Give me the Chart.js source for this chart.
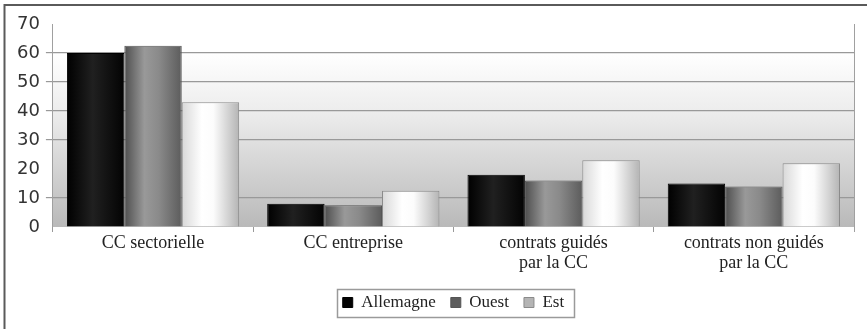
<!DOCTYPE html>
<html>
<head>
<meta charset="utf-8">
<script src="https://cdn.jsdelivr.net/npm/chart.js@4"></script>
<style>
  html, body { margin: 0; padding: 0; background: #fff; }
  #wrap { width: 867px; height: 329px; }
</style>
</head>
<body>
<div id="wrap"><canvas id="c" width="867" height="329"></canvas></div>
<script>
// Categories and series values (percent)
const categories = ['CC sectorielle', 'CC entreprise', ['contrats guidés', 'par la CC'], ['contrats non guidés', 'par la CC']];
const seriesNames = ['Allemagne', 'Ouest', 'Est'];
const allemagne = [60, 8, 18, 15];
const ouest = [62.5, 7.5, 16, 14];
const est = [43, 12.5, 23, 22];
const yMin = 0, yMax = 70, yStep = 10;
const hiddenGridValues = [0, 20, 70];

const CAT_PCT = 0.86;

// Horizontal "cylinder" shading for each bar, built from the x scale geometry
function barFill(solid, stops) {
  return (c) => {
    const chart = c.chart;
    const xs = chart.scales && chart.scales.x;
    if (!xs || c.dataIndex === undefined || !xs.width) return solid;
    const nSeries = chart.data.datasets.length;
    const catW = xs.width / chart.data.labels.length;
    const groupW = catW * CAT_PCT;
    const barW = groupW / nSeries;
    const left = xs.getPixelForTick(c.dataIndex) - groupW / 2 + c.datasetIndex * barW;
    const g = chart.ctx.createLinearGradient(left, 0, left + barW, 0);
    stops.forEach(s => g.addColorStop(s[0], s[1]));
    return g;
  };
}

const decorPlugin = {
  id: 'decor',
  beforeDraw(chart) {
    const {ctx, chartArea: a, scales: {y}} = chart;
    ctx.save();
    ctx.fillStyle = '#fff';
    ctx.fillRect(0, 0, chart.width, chart.height);
    // outer frame (left and top edges)
    ctx.strokeStyle = '#5a5a5a';
    ctx.lineWidth = 2;
    ctx.beginPath();
    ctx.moveTo(4.5, chart.height);
    ctx.lineTo(4.5, 5);
    ctx.lineTo(chart.width, 5);
    ctx.stroke();
    // plot background: white above 60, fading to grey toward the baseline
    const y60 = y.getPixelForValue(60);
    const y0 = y.getPixelForValue(0);
    const g = ctx.createLinearGradient(0, y60, 0, y0);
    g.addColorStop(0, '#ffffff');
    g.addColorStop(0.35, '#ececec');
    g.addColorStop(1, '#b9b9b9');
    ctx.fillStyle = g;
    ctx.fillRect(a.left, y60, a.right - a.left, y0 - y60);
    ctx.restore();
  },
  afterDraw(chart) {
    const {ctx, chartArea: a} = chart;
    ctx.save();
    // right edge of the plot
    ctx.strokeStyle = '#a0a0a0';
    ctx.lineWidth = 1;
    ctx.beginPath();
    ctx.moveTo(a.right + 0.5, a.top);
    ctx.lineTo(a.right + 0.5, a.bottom + 5);
    ctx.stroke();
    // frame round the legend
    const boxes = chart.legend && chart.legend.legendHitBoxes;
    if (boxes && boxes.length) {
      const l = Math.min(...boxes.map(b => b.left)) - 6;
      const r = Math.max(...boxes.map(b => b.left + b.width)) + 10;
      const t = Math.min(...boxes.map(b => b.top));
      const h = Math.max(...boxes.map(b => b.height));
      const cy = t + h / 2;
      ctx.strokeStyle = '#9a9a9a';
      ctx.lineWidth = 1.5;
      ctx.strokeRect(Math.round(l) + 0.5, Math.round(cy - 14) + 0.5, Math.round(r - l), 28);
    }
    ctx.restore();
  }
};

new Chart(document.getElementById('c'), {
  type: 'bar',
  data: {
    labels: categories,
    datasets: [
      {
        label: seriesNames[0], data: allemagne,
        backgroundColor: barFill('#000', [[0, '#000'], [0.45, '#202020'], [1, '#030303']]),
        borderColor: '#000', borderWidth: 1
      },
      {
        label: seriesNames[1], data: ouest,
        backgroundColor: barFill('#7a7a7a', [[0, '#4e4e4e'], [0.35, '#999'], [0.6, '#8a8a8a'], [1, '#5c5c5c']]),
        borderColor: '#555', borderWidth: 1
      },
      {
        label: seriesNames[2], data: est,
        backgroundColor: barFill('#f2f2f2', [[0, '#d8d8d8'], [0.35, '#fff'], [0.55, '#fcfcfc'], [1, '#b4b4b4']]),
        borderColor: '#8a8a8a', borderWidth: 1
      }
    ]
  },
  options: {
    responsive: false,
    animation: false,
    devicePixelRatio: 1,
    categoryPercentage: CAT_PCT,
    barPercentage: 1.0,
    layout: { padding: { left: 11, right: 13, top: 24, bottom: 8 } },
    plugins: {
      tooltip: { enabled: false },
      legend: {
        position: 'bottom',
        fullSize: false,
        labels: {
          boxWidth: 10, boxHeight: 10, padding: 15,
          color: '#222',
          font: { family: '"Liberation Serif", serif', size: 17 }
        }
      }
    },
    scales: {
      x: {
        afterFit(scale) { scale.height = 52; },
        border: { display: false },
        grid: {
          offset: true, drawOnChartArea: false, drawTicks: true,
          tickLength: 5, color: '#999', lineWidth: 1
        },
        ticks: {
          padding: 2, color: '#222', maxRotation: 0, autoSkip: false,
          font: { family: '"Liberation Serif", serif', size: 18, lineHeight: 1.08 }
        }
      },
      y: {
        min: yMin, max: yMax,
        border: { display: true, color: '#a0a0a0', width: 1 },
        grid: {
          color: (c) => hiddenGridValues.includes(c.tick && c.tick.value) ? 'rgba(0,0,0,0)' : '#999',
          lineWidth: 1.2, tickLength: 7
        },
        ticks: {
          stepSize: yStep, padding: 6, color: '#333',
          font: { family: '"DejaVu Sans", sans-serif', size: 18 }
        }
      }
    }
  },
  plugins: [decorPlugin]
});
</script>
</body>
</html>
